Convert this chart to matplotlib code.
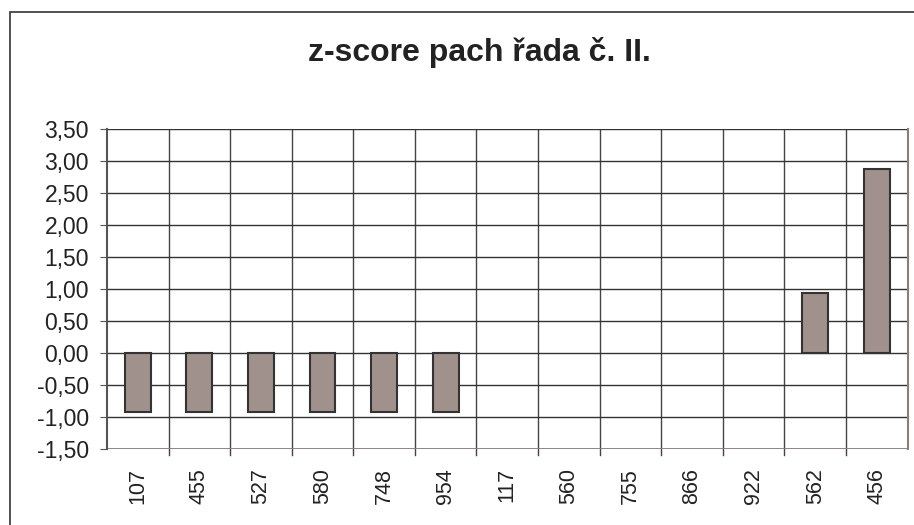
import matplotlib

matplotlib.use('agg')
import matplotlib.pyplot as plt
from matplotlib.patches import Rectangle
import numpy as np

labels = ['107', '455', '527', '580', '748', '954', '117',
          '560', '755', '866', '922', '562', '456']
zscores = [-0.93, -0.93, -0.93, -0.93, -0.93, -0.93, 0, 0, 0, 0, 0, 0.94, 2.87]

plt.rcParams['font.family'] = ['Liberation Sans', 'DejaVu Sans']

fig = plt.figure(figsize=(9.14, 5.25), dpi=100)
ax = fig.add_axes([0.117, 0.145, 0.876, 0.609])

x = np.arange(len(labels))
vals = np.array(zscores)
show = vals != 0
ax.bar(x[show], vals[show], width=0.42, color='#a0918c', edgecolor='#333333',
       linewidth=1.5, zorder=3)

ax.set_xlim(-0.5, len(labels) - 0.5)
ax.set_ylim(-1.5, 3.5)
yt = np.arange(-1.5, 3.51, 0.5)
ax.set_yticks(yt)
ax.set_yticklabels([f'{v:.2f}'.replace('.', ',') for v in yt], fontsize=16.5,
                   color='#222222')
ax.set_xticks(x)
ax.set_xticklabels(labels, rotation=90, fontsize=15.5, color='#222222')
ax.tick_params(axis='x', length=0, pad=14)
ax.tick_params(axis='y', length=5, color='#555555', pad=8)

# category boundaries as vertical gridlines
for b in np.arange(0.5, len(labels) - 0.5, 1):
    ax.axvline(b, color='#444444', linewidth=1, zorder=1)
    ax.plot([b, b], [-1.5, -1.6], color='#444444', linewidth=1, clip_on=False)
ax.yaxis.grid(True, color='#333333', linewidth=1, zorder=1)
ax.axhline(-1.5, color='#8c7f7a', linewidth=2, zorder=2)

for s in ['top', 'bottom']:
    ax.spines[s].set_visible(False)
ax.spines['right'].set_color('#8c7f7a')
ax.spines['right'].set_linewidth(1.5)
ax.spines['left'].set_color('#555555')
ax.spines['left'].set_linewidth(1.5)

fig.text(0.525, 0.90, 'z-score pach řada č. II.', ha='center', va='center',
         fontsize=23, fontweight='bold', color='#222222')

# chart frame: only left and top edges fall inside the image
fig.patches.append(Rectangle((0.011, -0.05), 1.1, 1.027, transform=fig.transFigure,
                             fill=False, edgecolor='#333333', linewidth=1.2))

fig.savefig('out.png', dpi=100)
